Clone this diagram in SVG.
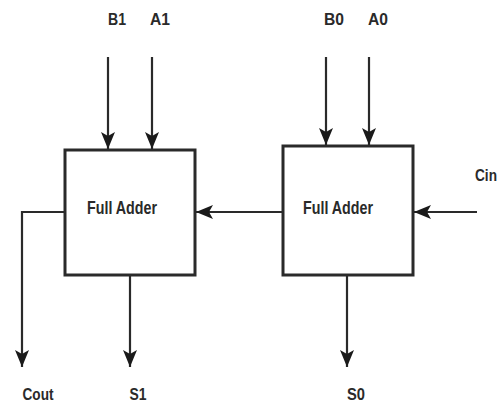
<svg xmlns="http://www.w3.org/2000/svg" width="502" height="404" viewBox="0 0 502 404">
<style>
.box{fill:#fff;stroke:#2a2a2a;stroke-width:3}
.ln{fill:none;stroke:#2a2a2a;stroke-width:2.2}
.t{font-family:"Liberation Sans",Arial,sans-serif;font-weight:bold;fill:#2a2a2a;text-anchor:middle}
.lbl{font-size:17px}
.fa{font-size:18px}
</style>
<defs>
<marker id="ah" markerUnits="userSpaceOnUse" markerWidth="18" markerHeight="14" refX="17" refY="7" orient="auto">
<path d="M0,0 L17,7 L0,14 L4,7 z" fill="#1a1a1a"/>
</marker>
</defs>
<rect width="502" height="404" fill="#fff"/>
<g id="fa1">
<rect class="box" x="65" y="150" width="130" height="125"/>
<text class="t fa" x="122" y="214" textLength="70" lengthAdjust="spacingAndGlyphs">Full Adder</text>
</g>
<g id="fa0">
<rect class="box" x="283" y="146" width="130" height="129"/>
<text class="t fa" x="338" y="214" textLength="70" lengthAdjust="spacingAndGlyphs">Full Adder</text>
</g>
<g id="labels">
<text class="t lbl" x="117" y="25" textLength="18" lengthAdjust="spacingAndGlyphs">B1</text>
<text class="t lbl" x="160" y="25" textLength="20" lengthAdjust="spacingAndGlyphs">A1</text>
<text class="t lbl" x="334" y="25" textLength="20" lengthAdjust="spacingAndGlyphs">B0</text>
<text class="t lbl" x="378" y="25" textLength="20" lengthAdjust="spacingAndGlyphs">A0</text>
<text class="t lbl" x="486" y="181" textLength="22" lengthAdjust="spacingAndGlyphs">Cin</text>
<text class="t lbl" x="38" y="400" textLength="31" lengthAdjust="spacingAndGlyphs">Cout</text>
<text class="t lbl" x="138" y="400" textLength="17" lengthAdjust="spacingAndGlyphs">S1</text>
<text class="t lbl" x="356" y="400" textLength="18" lengthAdjust="spacingAndGlyphs">S0</text>
</g>
<g id="connectors">
<line class="ln" x1="108" y1="57" x2="108" y2="149" marker-end="url(#ah)"/>
<line class="ln" x1="152" y1="57" x2="152" y2="149" marker-end="url(#ah)"/>
<line class="ln" x1="326" y1="57" x2="326" y2="145" marker-end="url(#ah)"/>
<line class="ln" x1="369" y1="57" x2="369" y2="145" marker-end="url(#ah)"/>
<line class="ln" x1="477" y1="212" x2="414" y2="212" marker-end="url(#ah)"/>
<line class="ln" x1="283" y1="212" x2="196" y2="212" marker-end="url(#ah)"/>
<polyline class="ln" points="65,212 22,212 22,367" marker-end="url(#ah)"/>
<line class="ln" x1="130" y1="276" x2="130" y2="367" marker-end="url(#ah)"/>
<line class="ln" x1="347" y1="276" x2="347" y2="367" marker-end="url(#ah)"/>
</g>
</svg>
